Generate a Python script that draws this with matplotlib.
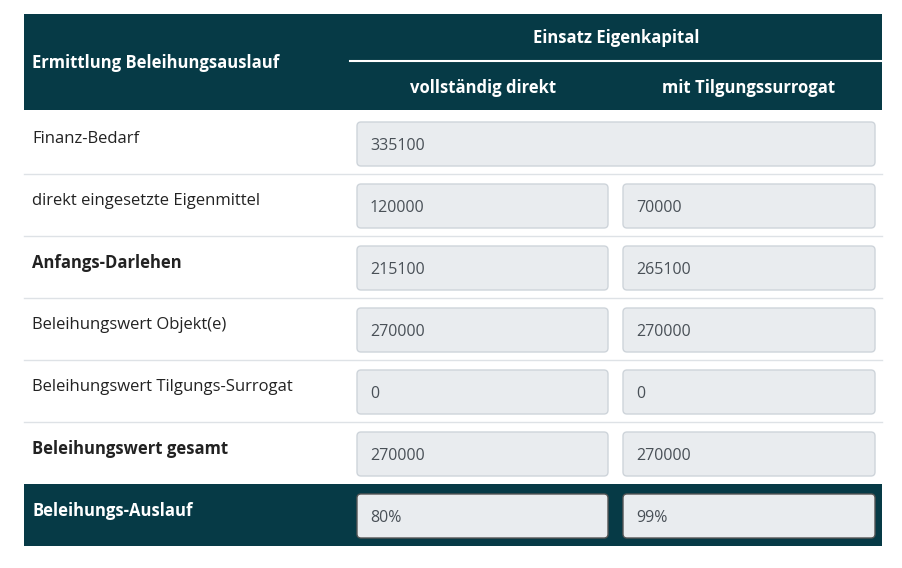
import matplotlib
matplotlib.use("Agg")
import matplotlib.pyplot as plt
from matplotlib.patches import FancyBboxPatch, Rectangle

row_labels = ["Finanz-Bedarf", "direkt eingesetzte Eigenmittel", "Anfangs-Darlehen",
              "Beleihungswert Objekt(e)", "Beleihungswert Tilgungs-Surrogat",
              "Beleihungswert gesamt", "Beleihungs-Auslauf"]
col_direkt = ["335100", "120000", "215100", "270000", "0", "270000", "80%"]
col_surrogat = [None, "70000", "265100", "270000", "0", "270000", "99%"]
bold_rows = [2, 5, 6]
header_main = "Ermittlung Beleihungsauslauf"
header_group = "Einsatz Eigenkapital"
header_cols = ["vollständig direkt", "mit Tilgungssurrogat"]

DARK = "#063a46"
FONT = "Open Sans"

fig = plt.figure(figsize=(9.02, 5.68), dpi=100)
ax = fig.add_axes([0, 0, 1, 1])
ax.set_xlim(0, 902); ax.set_ylim(568, 0); ax.axis("off")

ax.add_patch(Rectangle((24, 14), 858, 96, color=DARK, lw=0))
ax.plot([350, 882], [61, 61], color="white", lw=1.5)
ax.text(32, 63, header_main, color="white", fontsize=12, fontweight="bold", va="center", family=FONT)
ax.text(616, 38, header_group, color="white", fontsize=12, fontweight="bold", va="center", ha="center", family=FONT)
ax.text(483, 88, header_cols[0], color="white", fontsize=12, fontweight="bold", va="center", ha="center", family=FONT)
ax.text(749, 88, header_cols[1], color="white", fontsize=12, fontweight="bold", va="center", ha="center", family=FONT)

top = 112
h = 62
for i, lab in enumerate(row_labels):
    y0 = top + i * h
    last = i == len(row_labels) - 1
    if last:
        ax.add_patch(Rectangle((24, y0), 858, h, color=DARK, lw=0))
    elif i > 0:
        ax.plot([24, 882], [y0, y0], color="#dee2e6", lw=1)
    ax.text(32, y0 + 27, lab, color="white" if last else "#222222", fontsize=12,
            fontweight="bold" if i in bold_rows else "normal", va="center", family=FONT)
    ec = "#555555" if last else "#ced4da"
    if col_surrogat[i] is None:
        boxes = [(357, 875, col_direkt[i])]
    else:
        boxes = [(357, 608, col_direkt[i]), (623, 875, col_surrogat[i])]
    for xa, xb, v in boxes:
        ax.add_patch(FancyBboxPatch((xa, y0 + 10), xb - xa, 44,
                                    boxstyle="round,pad=0,rounding_size=4",
                                    fc="#e9ecef", ec=ec, lw=1))
        ax.text(xa + 13, y0 + 34, v, color="#495057", fontsize=11.5, va="center", family=FONT)

fig.savefig("out.png", dpi=100, facecolor="white")
